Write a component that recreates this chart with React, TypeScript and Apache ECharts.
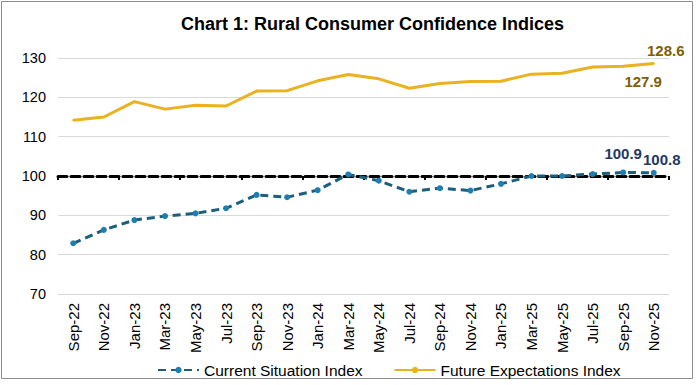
import React, { useEffect, useRef } from "react";
import * as echarts from "echarts";

const categories = [
  "Sep-22", "Nov-22", "Jan-23", "Mar-23", "May-23", "Jul-23", "Sep-23", "Nov-23",
  "Jan-24", "Mar-24", "May-24", "Jul-24", "Sep-24", "Nov-24", "Jan-25", "Mar-25",
  "May-25", "Jul-25", "Sep-25", "Nov-25",
];
const currentSituation = [
  82.9, 86.3, 88.8, 89.8, 90.5, 91.8, 95.2, 94.6, 96.4, 100.4,
  98.8, 96.0, 96.9, 96.3, 98.0, 100.0, 100.0, 100.5, 100.9, 100.8,
];
const futureExpectations = [
  114.2, 115.0, 118.9, 117.0, 118.0, 117.8, 121.6, 121.7, 124.2, 125.8,
  124.7, 122.3, 123.5, 124.0, 124.1, 125.9, 126.1, 127.7, 127.9, 128.6,
];
const yTicks = { min: 70, max: 130, interval: 10 };
const referenceLevel = 100;

const FONT = "'Liberation Sans', Arial, sans-serif";

export default function App() {
  const ref = useRef<HTMLDivElement>(null);
  useEffect(() => {
    document.body.style.margin = "0";
    const chart = echarts.init(ref.current!, null, { renderer: "svg" });
    const n = categories.length;
    const fLabelColor = "#7F6000";
    const cLabelColor = "#1F3864";
    const futureData = futureExpectations.map((v, i) => {
      if (i === n - 1)
        return { value: v, label: { show: true, position: "top", offset: [12, 0], color: fLabelColor } };
      if (i === n - 2)
        return { value: v, label: { show: true, position: "bottom", offset: [20, 2], color: fLabelColor } };
      return v;
    });
    const currentData = currentSituation.map((v, i) => {
      if (i === n - 1)
        return { value: v, label: { show: true, position: "top", offset: [8, 2], color: cLabelColor } };
      if (i === n - 2)
        return { value: v, label: { show: true, position: "top", offset: [0, -3], color: cLabelColor } };
      return v;
    });
    const gridTop = 58;
    const gridBottom = 91;
    const gridH = 385 - gridTop - gridBottom;
    const refOffset = -((referenceLevel - yTicks.min) / (yTicks.max - yTicks.min)) * gridH;
    chart.setOption({
      animation: false,
      textStyle: { fontFamily: FONT },
      title: {
        text: "Chart 1: Rural Consumer Confidence Indices",
        left: 176,
        top: 10,
        textStyle: { fontFamily: FONT, fontSize: 18, fontWeight: "bold", color: "#000" },
      },
      graphic: [
        {
          type: "rect",
          shape: { x: 1.5, y: 1.5, width: 691, height: 377 },
          style: { fill: "none", stroke: "#8C8C8C", lineWidth: 1 },
          silent: true,
        },
      ],
      legend: {
        top: 357,
        left: 152,
        itemWidth: 41,
        itemHeight: 8,
        itemGap: 31,
        textStyle: { fontFamily: FONT, fontSize: 15.5, color: "#000" },
        data: ["Current Situation Index", "Future Expectations Index"],
      },
      grid: { left: 58, right: 29, top: gridTop, bottom: gridBottom },
      xAxis: [
        {
          type: "category",
          data: categories,
          boundaryGap: true,
          axisLine: { show: false },
          axisTick: { show: false },
          axisLabel: {
            rotate: 90,
            interval: 0,
            fontSize: 15,
            color: "#000",
            fontFamily: FONT,
            margin: 9,
          },
        },
        {
          type: "category",
          data: categories,
          position: "bottom",
          offset: refOffset,
          boundaryGap: true,
          axisLine: { show: true, lineStyle: { color: "#000", width: 3, type: [9, 4] } },
          axisTick: { show: true, length: 4, lineStyle: { color: "#000", width: 2 } },
          axisLabel: { show: false },
          z: 1,
        },
      ],
      yAxis: {
        type: "value",
        min: yTicks.min,
        max: yTicks.max,
        interval: yTicks.interval,
        axisLine: { show: false },
        axisTick: { show: false },
        splitLine: { lineStyle: { color: "#D9D9D9", width: 1 } },
        axisLabel: { fontSize: 14.5, color: "#000", fontFamily: FONT, margin: 12 },
      },
      series: [
        {
          name: "Current Situation Index",
          type: "line",
          data: currentData,
          symbol: "circle",
          symbolSize: 6,
          z: 3,
          lineStyle: { color: "#1B5F7C", width: 3, type: [8, 5] },
          itemStyle: { color: "#1F7DB0" },
          label: { fontSize: 15, fontWeight: "bold", fontFamily: FONT },
        },
        {
          name: "Future Expectations Index",
          type: "line",
          data: futureData,
          symbol: "circle",
          symbolSize: 2,
          showSymbol: true,
          z: 3,
          lineStyle: { color: "#EBB11E", width: 3 },
          itemStyle: { color: "#EBB11E" },
          label: { fontSize: 15, fontWeight: "bold", fontFamily: FONT },
        },
      ],
    });
    return () => chart.dispose();
  }, []);
  return (
    <div
      ref={ref}
      style={{ position: "absolute", left: 0, top: 0, width: 698, height: 385, background: "#fff" }}
    />
  );
}
